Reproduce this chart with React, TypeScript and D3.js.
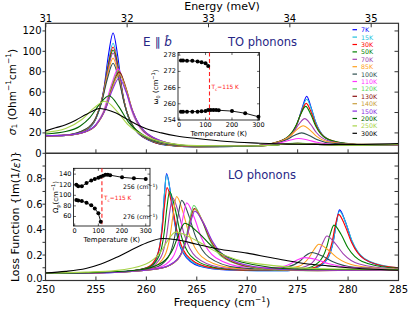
import React from "react";
import * as d3 from "d3";

// temperatures and colours (legend order)
const temps = ["7K", "15K", "30K", "50K", "70K", "85K", "100K", "110K", "120K", "130K", "140K", "150K", "200K", "250K", "300K"];
const colors = ["#0000ff", "#20c0dc", "#ff0000", "#008000", "#a040b0", "#ffa020", "#2f4f4f", "#ff33ff", "#5fd35f", "#8b1010", "#c9a040", "#8a2be2", "#006400", "#a8d44a", "#000000"];

// sigma_1 (Ohm^-1 cm^-1), [frequency cm^-1, value]
const s7 = [[250,17],[252,17.4],[254,22.5],[255,34],[255.8,64],[256.25,97],[256.7,118],[257.15,96],[257.6,62],[258.5,29],[260.3,12.5],[262,8],[265,6.3],[270,7],[272,8.5],[274.2,16.6],[275.05,31.5],[275.5,46],[275.9,56],[276.3,46],[276.75,31.5],[277.6,16.6],[279.3,9.3],[282,8],[285,8.5]];
const s15 = [[250,17],[252,17.4],[254,22.5],[255,33.8],[255.75,59],[256.22,88.7],[256.7,108],[257.18,88],[257.65,57.5],[258.6,27],[260.5,12],[262,8.1],[265,6.2],[270,7],[272,8.6],[274.1,16],[275,30],[275.45,43.8],[275.9,53],[276.35,43.8],[276.8,30],[277.7,16],[279.5,9],[282,8],[285,8.5]];
const s30 = [[250,17.1],[252,17.7],[254,23.1],[255,34.7],[255.7,57.3],[256.2,85.6],[256.7,104.3],[257.2,84.6],[257.7,55.3],[258.7,25.9],[260.7,11.2],[262,8.3],[265,6.4],[270,7.1],[272,8.7],[273.95,15.2],[274.9,28],[275.38,40.6],[275.85,49],[276.33,40.6],[276.8,28],[277.75,15.4],[279.6,9.8],[282,8],[285,8.5]];
const s50 = [[250,17.1],[252,17.7],[254,23.1],[255,34.6],[255.68,55.8],[256.19,83.2],[256.7,101.3],[257.21,82.2],[257.72,53.8],[258.74,25.2],[260.78,11.1],[262,8.3],[265,6.4],[270,7.1],[272,8.8],[273.8,14.5],[274.8,26.5],[275.3,38.2],[275.8,46],[276.3,38.2],[276.8,26.5],[277.8,14.8],[279.8,9.7],[282,8.1],[285,8.5]];
const s70 = [[250,17.2],[252,17.8],[254,23.3],[255,34.9],[255.65,54.3],[256.18,80.8],[256.7,98.3],[257.23,79.8],[257.75,52.3],[258.8,24.6],[260.9,10.9],[262,8.4],[265,6.4],[270,7.1],[272,8.7],[273.4,12],[274.55,20.4],[275.13,28.6],[275.7,34],[276.28,28.6],[276.85,20.4],[278,12.4],[280.3,9.1],[282,8.1],[285,8.5]];
const s85 = [[250,17.2],[252,17.9],[254,23.6],[255,35],[255.6,51.9],[256.15,76.9],[256.7,93.3],[257.25,75.8],[257.8,49.7],[258.9,23.6],[261.1,10.5],[262,8.5],[265,6.5],[270,7],[272,8.7],[272.95,10.5],[274.25,16.9],[274.9,23],[275.55,27],[276.2,23],[276.85,16.9],[278.15,11.1],[280.75,8.8],[285,8.5]];
const s100 = [[250,17.3],[252,18],[254,23.8],[255,35],[255.55,49.5],[256.13,72.9],[256.7,88.3],[257.28,71.8],[257.85,47.2],[259,22.5],[261.3,10.1],[262,8.6],[265,6.6],[270,6.9],[272.4,9],[273.9,13.3],[274.65,17.4],[275.4,20],[276.15,17.4],[276.9,13.5],[278.4,9.8],[281.4,8.7],[285,8.5]];
const s110 = [[250,17.2],[252,17.6],[254,21.4],[255,28.3],[255.7,40],[256.58,68.4],[257.2,82.8],[257.83,67.2],[258.45,44.3],[259.7,21.1],[262.2,9.4],[265,6.9],[270,6.8],[271.5,7.7],[273.3,10.4],[274.2,12.8],[275.1,14.5],[276,13],[276.9,10.8],[278.7,8.7],[282,8.1],[285,8.5]];
const s120 = [[250,17.2],[252,17.6],[254,21.3],[255,27.8],[255.97,45.5],[256.61,66.8],[257.25,80.9],[257.89,65.9],[258.53,43.4],[259.81,20.7],[262.37,9.3],[265,6.9],[270,6.6],[273,8.3],[275,10],[277,8.8],[280,7.9],[285,8.5]];
const s130 = [[250,17.2],[252,17.6],[254,21.2],[255,27.4],[256,45],[256.65,66],[257.3,79.9],[257.95,65.1],[258.6,42.8],[259.9,20.4],[262.5,9.2],[265,6.9],[270,6.6],[273,8.5],[275,9.8],[277,8.8],[280,7.9],[285,8.5]];
const s140 = [[250,17.3],[252,17.6],[254,21.3],[255,27.5],[255.97,44],[256.64,64.4],[257.3,77.9],[257.97,63.5],[258.63,41.8],[259.96,20],[262.62,9.1],[265,7],[270,6.6],[273,8.6],[275,9.6],[277,8.8],[280,7.9],[285,8.5]];
const s150 = [[250,17.3],[252,17.8],[254,21.5],[255,27.8],[255.9,42.1],[256.6,61.2],[257.3,73.9],[258,59.8],[258.7,39.7],[260.1,19.2],[262.9,8.9],[265,7.1],[270,6.6],[273,8.8],[275,9.5],[277,8.8],[280,7.9],[285,8.5]];
const s200 = [[250,19],[252,21.3],[253.45,26.8],[254.4,35],[255.35,47.9],[256.3,56.5],[257.25,46],[258.2,30.8],[260.1,15.6],[262,9.8],[265,7.2],[270,6.9],[273,8.3],[275,9.5],[277,8.6],[280,8],[285,8.8]];
const s250 = [[250,20.5],[252,24.3],[253.6,33.1],[254.75,44],[255.9,51],[257.05,41.6],[258.2,27.9],[260.5,14.2],[262,10.2],[265,7.5],[270,7.1],[273,8.3],[275,9.5],[277,8.8],[280,8],[285,8.8]];
const s300 = [[250,22],[251,25],[252,28],[253,32.5],[254,38],[254.7,41.5],[255.3,44],[256,43],[257,39.5],[258,34],[259,28.5],[260,24],[261.5,20],[263,17],[265,14.5],[268,11.5],[271,10],[274,9],[277,8.8],[280,8.7],[285,9.5]];
const sigmaSeries = [s7, s15, s30, s50, s70, s85, s100, s110, s120, s130, s140, s150, s200, s250, s300];

// loss function Im(1/eps)
const l7 = [[250,.055],[255,.06],[258,.07],[260.4,.11],[261.2,.22],[261.6,.453],[261.8,.686],[262,.84],[262.4,.686],[262.8,.454],[263.6,.223],[265.2,.115],[268,.083],[271,.078],[274,.078],[276.75,.1],[277.95,.17],[278.55,.314],[278.85,.457],[279.15,.555],[279.75,.458],[280.35,.315],[281.55,.173],[283.95,.106],[285,.099]];
const l15 = [[250,.055],[255,.06],[258,.07],[260.32,.11],[261.16,.218],[261.58,.448],[261.79,.678],[262,.83],[262.42,.678],[262.84,.449],[263.68,.221],[265.36,.115],[268,.085],[271,.078],[274,.078],[276.67,.1],[277.91,.168],[278.53,.31],[278.84,.451],[279.15,.545],[279.78,.451],[280.4,.31],[281.65,.171],[284.15,.107],[285,.1]];
const l30 = [[250,.055],[255,.061],[258,.071],[260.13,.104],[261.09,.198],[261.57,.398],[261.81,.598],[262.05,.73],[262.53,.598],[263.01,.399],[263.97,.201],[265.89,.109],[268,.087],[271,.079],[274,.08],[276.45,.098],[277.75,.163],[278.4,.298],[278.73,.431],[279.05,.52],[279.7,.431],[280.35,.298],[281.65,.166],[284.25,.105],[285,.1]];
const l50 = [[250,.055],[255,.061],[258,.071],[260.22,.102],[261.26,.192],[261.78,.383],[262.04,.574],[262.3,.7],[262.82,.574],[263.34,.384],[264.38,.195],[266.46,.108],[268,.09],[271,.081],[274,.082],[275.6,.091],[277.1,.145],[277.85,.254],[278.22,.363],[278.6,.435],[279.3,.363],[280,.255],[281.4,.149],[284.2,.1],[285,.096]];
const l70 = [[250,.055],[255,.061],[258,.071],[260.28,.099],[261.44,.182],[262.02,.358],[262.31,.534],[262.6,.65],[263.18,.534],[263.76,.359],[264.92,.186],[267.24,.104],[270,.085],[272.5,.082],[274.5,.089],[276.2,.125],[277.05,.21],[277.48,.294],[277.9,.35],[278.7,.294],[279.5,.212],[281.1,.13],[284.3,.094],[285,.093]];
const l85 = [[250,.055],[255,.06],[258,.071],[260.52,.101],[261.76,.185],[262.38,.363],[262.69,.54],[263,.66],[263.62,.54],[264.24,.364],[265.48,.188],[267.96,.105],[270,.09],[273.1,.088],[275.1,.111],[276.1,.177],[276.6,.24],[277.1,.285],[278,.242],[278.9,.18],[280.7,.118],[284.3,.091],[285,.09]];
const l100 = [[250,.055],[255,.06],[258,.071],[260.78,.099],[262.14,.18],[262.82,.348],[263.16,.516],[263.5,.63],[264.18,.516],[264.86,.349],[266.22,.182],[268.94,.103],[271.6,.091],[274,.107],[275.2,.151],[275.8,.196],[276.4,.22],[277.45,.192],[278.5,.147],[280.6,.104],[285,.089]];
const l110 = [[250,.055],[255,.06],[258,.07],[261.12,.099],[262.56,.176],[263.28,.338],[263.64,.501],[264,.61],[264.72,.501],[265.44,.34],[266.88,.179],[269.76,.107],[272.9,.102],[274.3,.132],[275,.164],[275.7,.18],[276.9,.163],[278.1,.131],[280.5,.1],[285,.09]];
const l120 = [[250,.055],[255,.06],[258,.069],[261.58,.098],[263.14,.172],[263.92,.329],[264.31,.485],[264.7,.59],[265.45,.485],[266.2,.33],[267.7,.174],[270.7,.099],[273,.083],[276,.077],[280,.08],[285,.083]];
const l130 = [[250,.055],[255,.06],[258,.069],[261.47,.097],[263.11,.167],[263.93,.317],[264.34,.465],[264.75,.565],[265.55,.465],[266.35,.318],[267.95,.169],[271.15,.098],[274,.082],[277,.078],[281,.081],[285,.083]];
const l140 = [[250,.055],[255,.06],[258,.069],[261.44,.096],[263.12,.166],[263.96,.314],[264.38,.461],[264.8,.56],[265.63,.461],[266.45,.315],[268.1,.168],[271.4,.097],[274.5,.082],[278,.08],[282,.082],[285,.083]];
const l150 = [[250,.055],[255,.06],[258,.07],[261.28,.095],[263.04,.163],[263.92,.307],[264.36,.449],[264.8,.545],[265.68,.449],[266.55,.308],[268.3,.165],[271.8,.096],[275,.082],[279,.081],[285,.084]];
const l200 = [[250,.057],[255,.064],[259.4,.085],[261.6,.143],[262.7,.258],[263.25,.372],[263.8,.45],[265.2,.372],[266.6,.26],[269.4,.146],[275,.09],[280,.086],[285,.087]];
const l250 = [[250,.059],[254,.066],[256.9,.078],[259.9,.128],[261.4,.223],[262.15,.317],[262.9,.38],[264.9,.317],[266.9,.227],[270.9,.133],[278.9,.091],[285,.09]];
const l300 = [[250,.06],[252,.072],[254,.095],[255.5,.13],[257,.18],[258.5,.24],[260,.295],[261.6,.33],[263,.32],[265,.285],[267,.25],[270,.215],[272,.185],[274,.155],[276,.13],[278,.115],[280,.1],[282,.09],[285,.08]];
const lossSeries = [l7, l15, l30, l50, l70, l85, l100, l110, l120, l130, l140, l150, l200, l250, l300];

// inset data
const insetTempsAll = [7, 15, 30, 50, 70, 85, 100, 110, 120, 130, 140, 150, 200, 250, 300];
const insetTempsLow = [7, 15, 30, 50, 70, 85, 100, 110];
const omega256 = [257.1, 257.1, 257.1, 257.1, 257.1, 257.2, 257.3, 257.7, 257.7, 257.7, 257.7, 257.6, 257.3, 256.5, 255.2];
const omega276 = [276.0, 276.0, 275.9, 275.9, 275.7, 275.4, 275.0, 274.0];
const plasma256 = [120, 117, 117, 123, 128, 131, 133, 135, 137, 139, 139, 138, 134, 132, 131];
const plasma276 = [91, 90, 89, 86, 81, 75, 66, 50];

const freqTicks = [250, 255, 260, 265, 270, 275, 280, 285];
const energyTicks = [31, 32, 33, 34, 35];
const sigmaTicks = [0, 20, 40, 60, 80, 100, 120];
const lossTicks = [0, 0.1, 0.2, 0.3, 0.4, 0.5, 0.6, 0.7, 0.8, 0.9];
const CM_PER_MEV = 8.0655;

const FONT = "DejaVu Sans, sans-serif";
const NAVY = "#262686";

const L = 45.5, R = 398.5, T1 = 23.3, B1 = 153.3, B2 = 280.5;

const x = d3.scaleLinear().domain([250, 285]).range([L, R]);
const ySig = d3.scaleLinear().domain([0, 127.5]).range([B1, T1]);
const yLoss = d3.scaleLinear().domain([0, 1]).range([B2, B1]);

function Inset({ x0, x1, y0, y1, xs, ys, yTicks, xTicks, series, ylabel, ylabelPos, tc, notes }: any) {
  const line = d3.line<[number, number]>().x(d => xs(d[0])).y(d => ys(d[1]));
  return (
    <g fontFamily={FONT}>
      <rect x={x0} y={y0} width={x1 - x0} height={y1 - y0} fill="white" stroke="black" strokeWidth={0.8} />
      {yTicks.map((t: number) => (
        <g key={"y" + t}>
          <line x1={x0} x2={x0 + 2.5} y1={ys(t)} y2={ys(t)} stroke="black" strokeWidth={0.6} />
          <line x1={x1} x2={x1 - 2.5} y1={ys(t)} y2={ys(t)} stroke="black" strokeWidth={0.6} />
          <text x={x0 - 2} y={ys(t)} fontSize={6.5} textAnchor="end" dominantBaseline="central">{t}</text>
        </g>
      ))}
      {xTicks.map((t: number) => (
        <g key={"x" + t}>
          <line x1={xs(t)} x2={xs(t)} y1={y1} y2={y1 - 2.5} stroke="black" strokeWidth={0.6} />
          <line x1={xs(t)} x2={xs(t)} y1={y0} y2={y0 + 2.5} stroke="black" strokeWidth={0.6} />
          <text x={xs(t)} y={y1 + 6.5} fontSize={6.5} textAnchor="middle">{t}</text>
        </g>
      ))}
      <text x={(x0 + x1) / 2} y={y1 + 16} fontSize={7} textAnchor="middle">Temperature (K)</text>
      <text transform={`translate(${ylabelPos[0]},${ylabelPos[1]}) rotate(-90)`} fontSize={7} textAnchor="middle" dominantBaseline="central">
        {ylabel}
      </text>
      <line x1={xs(115)} x2={xs(115)} y1={y0} y2={y1} stroke="#ff2020" strokeWidth={1.1} strokeDasharray="4,2.5" />
      <text x={tc[0]} y={tc[1]} fontSize={5.8} fill="#ff2020">
        T<tspan dy={1.5} fontSize={4.2}>c</tspan><tspan dy={-1.5}>=115 K</tspan>
      </text>
      {series.map((s: any, i: number) => {
        const pts: [number, number][] = s.t.map((t: number, j: number) => [t, s.v[j]]);
        return (
          <g key={i}>
            <path d={line(pts) || ""} fill="none" stroke="black" strokeWidth={0.9} />
            {pts.map((p, j) => <circle key={j} cx={xs(p[0])} cy={ys(p[1])} r={2} fill="black" />)}
          </g>
        );
      })}
      {notes}
    </g>
  );
}

export default function App() {
  const sigLine = d3.line<number[]>().x(d => x(d[0])).y(d => ySig(d[1])).curve(d3.curveMonotoneX);
  const lossLine = d3.line<number[]>().x(d => x(d[0])).y(d => yLoss(d[1])).curve(d3.curveMonotoneX);

  const xi1 = d3.scaleLinear().domain([-4, 304]).range([178, 259.5]);
  const yi1 = d3.scaleLinear().domain([254, 279]).range([120, 52.5]);
  const xi2 = d3.scaleLinear().domain([-5, 318]).range([73.5, 150]);
  const yi2 = d3.scaleLinear().domain([42, 151]).range([226, 168.3]);

  const frame = "#333";

  return (
    <svg width={415} height={312} style={{ position: "absolute", left: 0, top: 0, background: "white" }} fontFamily={FONT}>
      <defs>
        <clipPath id="cTop"><rect x={L} y={T1} width={R - L} height={B1 - T1} /></clipPath>
        <clipPath id="cBot"><rect x={L} y={B1} width={R - L} height={B2 - B1} /></clipPath>
      </defs>

      {/* curves */}
      <g clipPath="url(#cTop)">
        {sigmaSeries.map((s, i) => (
          <path key={i} d={sigLine(s) || ""} fill="none" stroke={colors[i]} strokeWidth={1.1} />
        ))}
      </g>
      <g clipPath="url(#cBot)">
        {lossSeries.map((s, i) => (
          <path key={i} d={lossLine(s) || ""} fill="none" stroke={colors[i]} strokeWidth={1.1} />
        ))}
      </g>

      {/* frames */}
      <rect x={L} y={T1} width={R - L} height={B1 - T1} fill="none" stroke={frame} strokeWidth={1.2} />
      <rect x={L} y={B1} width={R - L} height={B2 - B1} fill="none" stroke={frame} strokeWidth={1.2} />

      {/* top energy axis */}
      {energyTicks.map(e => (
        <g key={"e" + e}>
          <line x1={x(e * CM_PER_MEV)} x2={x(e * CM_PER_MEV)} y1={T1} y2={T1 + 4} stroke={frame} />
          <text x={x(e * CM_PER_MEV)} y={21.5} fontSize={10} textAnchor="middle">{e}</text>
        </g>
      ))}
      <text x={(L + R) / 2} y={9.5} fontSize={11} textAnchor="middle">Energy (meV)</text>

      {/* frequency ticks */}
      {freqTicks.map(f => (
        <g key={"f" + f}>
          <line x1={x(f)} x2={x(f)} y1={B1} y2={B1 - 4} stroke={frame} />
          <line x1={x(f)} x2={x(f)} y1={B2} y2={B2 - 4} stroke={frame} />
          <text x={x(f)} y={292.5} fontSize={10} textAnchor="middle">{f}</text>
        </g>
      ))}
      <text x={(L + R) / 2} y={306} fontSize={11} textAnchor="middle">
        Frequency (cm<tspan dy={-4} fontSize={7.5}>−1</tspan><tspan dy={4}>)</tspan>
      </text>

      {/* sigma axis */}
      {sigmaTicks.map(t => (
        <g key={"s" + t}>
          <line x1={L - 3} x2={L} y1={ySig(t)} y2={ySig(t)} stroke={frame} />
          <line x1={R - 4} x2={R} y1={ySig(t)} y2={ySig(t)} stroke={frame} />
          <text x={41.5} y={ySig(t)} fontSize={10} textAnchor="end" dominantBaseline="central">{t}</text>
        </g>
      ))}
      <text transform={`translate(12,92) rotate(-90)`} fontSize={10.5} textAnchor="middle" dominantBaseline="central">
        <tspan fontStyle="italic">σ</tspan><tspan dy={2} fontSize={7.5}>1</tspan><tspan dy={-2}> (Ohm</tspan>
        <tspan dy={-4} fontSize={7.5}>−1</tspan><tspan dy={4}>cm</tspan><tspan dy={-4} fontSize={7.5}>−1</tspan><tspan dy={4}>)</tspan>
      </text>

      {/* loss axis */}
      {lossTicks.map((t, i) => (
        <g key={"l" + i}>
          <line x1={L - 3} x2={L} y1={yLoss(t)} y2={yLoss(t)} stroke={frame} />
          <line x1={R - 4} x2={R} y1={yLoss(t)} y2={yLoss(t)} stroke={frame} />
          {i % 2 === 0 && i <= 8 ? (
            <text x={42.5} y={i === 0 ? yLoss(t) - 2.5 : yLoss(t)} fontSize={10} textAnchor="end" dominantBaseline="central">{t.toFixed(1)}</text>
          ) : null}
        </g>
      ))}
      <text transform={`translate(15.5,216.5) rotate(-90)`} fontSize={11} textAnchor="middle" dominantBaseline="central">
        Loss Function {"{"}Im(1/<tspan fontStyle="italic">ε</tspan>){"}"}
      </text>

      {/* panel titles */}
      <text x={143} y={46} fontSize={12} fill={NAVY}>
        E ∥ <tspan fontStyle="italic">b̂</tspan>
      </text>
      <text x={228} y={46} fontSize={11.5} fill={NAVY}>TO phonons</text>
      <text x={228} y={179} fontSize={11.5} fill={NAVY}>LO phonons</text>

      {/* legend */}
      {temps.map((t, i) => (
        <g key={t}>
          <line x1={352.5} x2={357} y1={29.7 + i * 7.4} y2={29.7 + i * 7.4} stroke={colors[i]} strokeWidth={1.2} />
          <text x={361} y={29.7 + i * 7.4} fontSize={6.3} fill={colors[i]} dominantBaseline="central">{t}</text>
        </g>
      ))}

      {/* top inset: omega_0 */}
      <Inset
        x0={178} x1={259.5} y0={52.5} y1={120}
        xs={xi1} ys={yi1}
        yTicks={[254, 260, 266, 272, 278]} xTicks={[0, 100, 200, 300]}
        series={[{ t: insetTempsLow, v: omega276 }, { t: insetTempsAll, v: omega256 }]}
        ylabel={<>ω<tspan dy={1.5} fontSize={5}>0</tspan><tspan dy={-1.5}> (cm</tspan><tspan dy={-3} fontSize={5}>−1</tspan><tspan dy={3}>)</tspan></>}
        ylabelPos={[156, 87]}
        tc={[211.5, 89]}
        notes={null}
      />

      {/* bottom inset: Omega_p */}
      <Inset
        x0={73.5} x1={150} y0={168.3} y1={226}
        xs={xi2} ys={yi2}
        yTicks={[60, 80, 100, 120, 140]} xTicks={[0, 100, 200, 300]}
        series={[{ t: insetTempsAll, v: plasma256 }, { t: insetTempsLow, v: plasma276 }]}
        ylabel={<>Ω<tspan dy={1.5} fontSize={5}>p</tspan><tspan dy={-1.5}>(cm</tspan><tspan dy={-3} fontSize={5}>−1</tspan><tspan dy={3}>)</tspan></>}
        ylabelPos={[56, 197]}
        tc={[104, 200]}
        notes={
          <g fontSize={6.2}>
            <text x={123} y={189}>256 (cm<tspan dy={-2.5} fontSize={4.5}>−1</tspan><tspan dy={2.5}>)</tspan></text>
            <text x={123} y={219}>276 (cm<tspan dy={-2.5} fontSize={4.5}>−1</tspan><tspan dy={2.5}>)</tspan></text>
          </g>
        }
      />
    </svg>
  );
}
